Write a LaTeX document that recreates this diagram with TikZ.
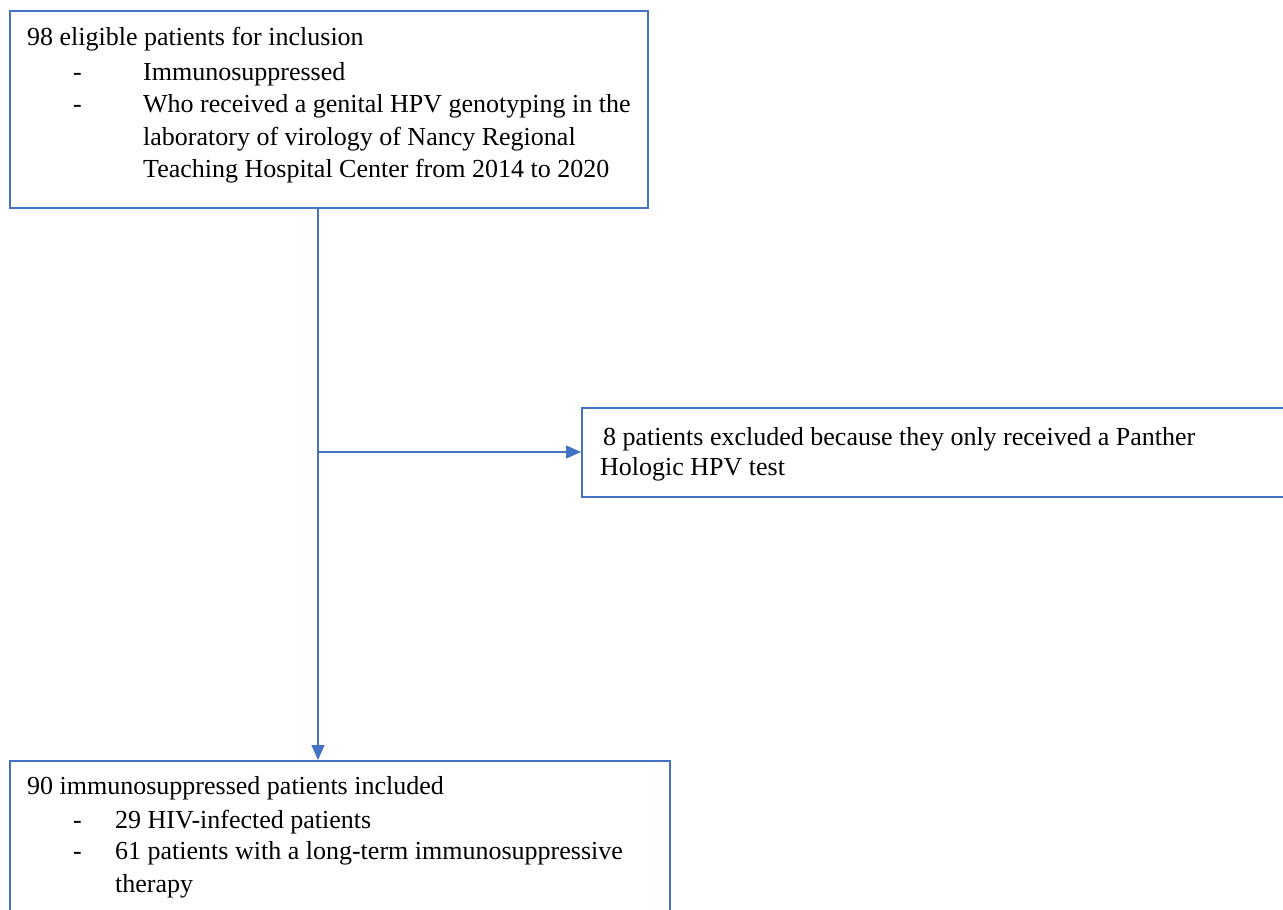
\documentclass[tikz,border=0pt]{standalone}
\usepackage{fontspec}
\setmainfont{Liberation Serif}
\usetikzlibrary{arrows.meta}
\definecolor{frameblue}{HTML}{4472C4}
\begin{document}
\begin{tikzpicture}[x=1pt,y=-1pt,
  box/.style={draw=frameblue,line width=2.2pt,inner sep=0pt,anchor=north west},
  txt/.style={anchor=base west,inner sep=0pt,font=\fontsize{26}{30}\selectfont},
  conn/.style={draw=frameblue,line width=1.3pt},
  tip/.style={-{Triangle[length=15pt,width=13pt]}}]
\useasboundingbox (0,0) rectangle (1283,910);
% boxes
\node[box,minimum width=638pt,minimum height=197pt] (b1) at (9,10) {};
\node[box,minimum width=720pt,minimum height=89pt] (b2) at (581,407) {};
\node[box,minimum width=660pt,minimum height=170pt] (b3) at (9,760) {};
% box 1 text
\node[txt] (t11) at (27,45) {98 eligible patients for inclusion};
\node[txt] (d12) at (73,80) {-};
\node[txt] (t12) at (143,80) {Immunosuppressed};
\node[txt] (d13) at (73,112) {-};
\node[txt] (t13) at (143,112) {Who received a genital HPV genotyping in the};
\node[txt] (t14) at (143,145) {laboratory of virology of Nancy Regional};
\node[txt] (t15) at (143,177) {Teaching Hospital Center from 2014 to 2020};
% box 2 text
\node[txt] (t21) at (603,445) {8 patients excluded because they only received a Panther};
\node[txt] (t22) at (600,475) {Hologic HPV test};
% box 3 text
\node[txt] (t31) at (27,794) {90 immunosuppressed patients included};
\node[txt] (d32) at (73,828) {-};
\node[txt] (t32) at (115,828) {29 HIV-infected patients};
\node[txt] (d33) at (73,859) {-};
\node[txt] (t33) at (115,859) {61 patients with a long-term immunosuppressive};
\node[txt] (t34) at (115,892) {therapy};
% connectors
\coordinate (j) at (318,452);
\draw[conn,tip] (b1.south -| j) -- (b3.north -| j);
\draw[conn,tip] (j) -- (b2.west |- j);
\end{tikzpicture}
\end{document}
